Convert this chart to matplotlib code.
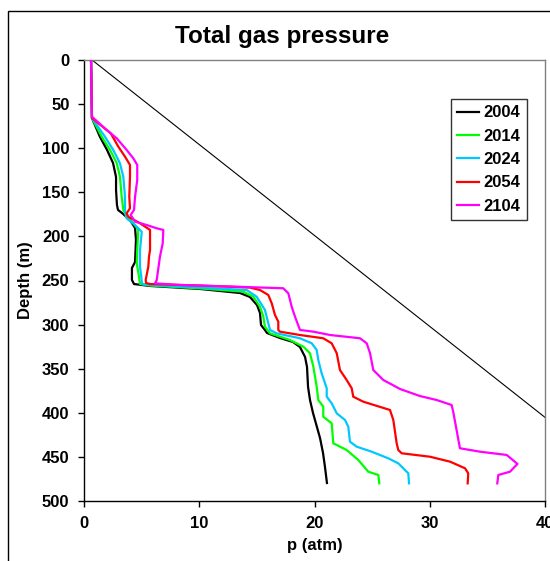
import matplotlib
matplotlib.use("Agg")
import matplotlib.pyplot as plt
from matplotlib.patches import Rectangle

plt.rcParams['font.family'] = ['Liberation Sans', 'DejaVu Sans']
plt.rcParams['font.weight'] = 'bold'

# Hydrostatic reference line (p in atm vs depth in m)
hydro_depth = [0, 500]
hydro_p = [0.7, 49.2]

years = ["2004", "2014", "2024", "2054", "2104"]
colors = ["#000000", "#00FF00", "#00C8FF", "#FF0000", "#FF00FF"]

depth_2004 = [0, 65.8, 87.3, 102, 116.8, 132.7, 147.4, 164.4, 170, 173.5, 181.4, 190.5, 204, 229, 235.8,
              249.4, 254, 256.2, 259.6, 264.2, 268.7, 277.8, 286.8, 300.5, 306.1, 309.5, 315.2, 319.7,
              325.4, 336.7, 348, 370.7, 385.5, 400.2, 428.6, 445.6, 461.5, 479.6]
p_2004 = [0.61, 0.69, 1.39, 2.0, 2.52, 2.78, 2.78, 2.86, 2.95, 3.30, 3.99, 4.43, 4.51, 4.43, 4.16,
          4.16, 4.34, 5.73, 10.07, 13.54, 14.40, 15.01, 15.27, 15.36, 15.70, 15.88, 17.0, 18.13,
          18.74, 19.18, 19.35, 19.44, 19.61, 19.87, 20.48, 20.74, 20.91, 21.08]

depth_2014 = [0, 65.8, 87, 102, 116.8, 132.3, 155, 170, 177.7, 184.8, 192.7, 215.4, 230, 245.7, 254,
              255.7, 259, 262.7, 268.4, 279.7, 291, 302.4, 309.9, 317.5, 325, 332.5, 347.7, 370.4,
              385.5, 393, 404.4, 411.9, 434.6, 442.2, 453.5, 466.8, 470.5, 480]
p_2014 = [0.61, 0.69, 1.54, 2.26, 2.84, 3.12, 3.27, 3.41, 3.70, 4.28, 4.71, 4.62, 4.57, 4.77, 4.86,
          5.73, 10.07, 13.82, 14.69, 15.27, 15.56, 15.70, 16.14, 17.87, 19.03, 19.61, 19.90, 20.19,
          20.33, 20.76, 20.76, 21.49, 21.63, 22.79, 23.80, 24.67, 25.54, 25.62]

depth_2024 = [0, 65.8, 87, 102, 117.1, 132.3, 155, 170, 179.5, 187.1, 194.7, 215.4, 234.4, 245.7, 254,
              255.1, 258, 260.8, 268.4, 283.4, 298.5, 306.1, 309.9, 315.5, 321.2, 328.8, 340.1, 355.2,
              372.2, 381.7, 389.2, 400.6, 408.2, 415.8, 432.8, 438.4, 444.1, 451.6, 457.3, 464.9,
              468.6, 480]
p_2024 = [0.61, 0.69, 1.82, 2.54, 3.12, 3.41, 3.56, 3.56, 3.70, 4.43, 5.01, 4.86, 4.86, 4.97, 5.03,
          5.73, 10.07, 14.12, 14.98, 15.70, 15.99, 16.14, 16.72, 18.74, 19.76, 20.19, 20.33, 20.62,
          21.06, 21.06, 21.49, 21.93, 22.65, 22.93, 23.08, 23.66, 24.96, 26.40, 27.27, 27.85,
          28.14, 28.20]

depth_2054 = [0, 65.8, 83.1, 98.3, 109.6, 119, 132.3, 155, 168.1, 173.8, 177.7, 185.1, 192.7, 215.4,
              223, 234.4, 249.4, 252.8, 254, 255.7, 258, 260.8, 266.4, 275.9, 289.1, 296.7, 306.1,
              308, 311.8, 315.5, 321.2, 332.5, 351.5, 362.8, 372.2, 381.7, 387.4, 396.8, 408.2,
              434.6, 442.2, 445.9, 449.8, 455.4, 462.9, 468.6, 480]
p_2054 = [0.61, 0.69, 2.32, 2.98, 3.56, 3.99, 3.99, 3.93, 3.99, 3.70, 3.84, 4.86, 5.73, 5.73,
          5.64, 5.58, 5.35, 5.38, 5.73, 10.07, 14.40, 15.27, 15.99, 16.29, 16.57, 16.86, 16.86,
          17.0, 18.74, 20.76, 21.49, 21.93, 22.21, 22.79, 23.23, 23.36, 24.23, 26.55, 26.84,
          27.13, 27.27, 27.57, 30.02, 31.76, 33.06, 33.34, 33.29]

depth_2104 = [0, 64.3, 79.4, 88.8, 102, 111.5, 119, 136, 155, 170, 175.7, 183.3, 187.1, 190.8, 192.7,
              207.8, 223, 236.2, 249.4, 253.2, 255.1, 256.8, 258.8, 264.5, 279.7, 291, 306.1, 308,
              311.8, 315.5, 321.2, 332.5, 351.5, 362.8, 373, 381, 385.5, 391.2, 399.1, 440.2, 444.1,
              447.8, 458, 466.8, 470.5, 480]
p_2104 = [0.61, 0.69, 1.97, 2.84, 3.70, 4.28, 4.62, 4.62, 4.43, 4.34, 4.05, 4.43, 5.44, 6.31, 6.88,
          6.83, 6.59, 6.45, 6.31, 6.16, 8.33, 12.67, 17.29, 17.73, 18.02, 18.31, 18.74, 19.90,
          21.35, 23.95, 24.53, 24.82, 25.10, 25.97, 27.42, 29.15, 30.60, 31.90, 32.04, 32.62, 34.36,
          36.68, 37.61, 36.96, 35.95, 35.86]

series_p = [p_2004, p_2014, p_2024, p_2054, p_2104]
series_depth = [depth_2004, depth_2014, depth_2024, depth_2054, depth_2104]

W, H = 550, 561
fig = plt.figure(figsize=(W / 100, H / 100), dpi=100)
ax = fig.add_axes([84 / W, 1 - 501 / H, (545 - 84) / W, (501 - 60) / H])

# Outer chart frame (runs off the right and bottom edges)
fig.patches.append(Rectangle((8 / W, -0.2), 1.2, 1.2 - 11 / H,
                             transform=fig.transFigure, fill=False,
                             edgecolor="black", linewidth=1.0))

ax.plot(hydro_p, hydro_depth, color="black", linewidth=0.8, zorder=2)

for p, d, c, y in zip(series_p, series_depth, colors, years):
    ax.plot(p, d, color=c, linewidth=1.6, label=y, zorder=3)

ax.set_xlim(0, 40)
ax.set_ylim(500, 0)
ax.set_xticks([0, 10, 20, 30, 40])
ax.set_yticks(range(0, 501, 50))
ax.tick_params(axis="both", direction="out", length=4.5, width=1, labelsize=12)
ax.tick_params(axis="y", pad=6)
ax.tick_params(axis="x", pad=6)
for lbl in ax.get_xticklabels() + ax.get_yticklabels():
    lbl.set_fontweight("bold")

for side in ("top", "right"):
    ax.spines[side].set_color("#808080")
    ax.spines[side].set_linewidth(1.0)
for side in ("left", "bottom"):
    ax.spines[side].set_color("black")
    ax.spines[side].set_linewidth(1.0)

fig.text(282 / W, 1 - 36 / H, "Total gas pressure", fontsize=17.5, fontweight="bold",
         ha="center", va="center")
ax.set_xlabel("p (atm)", fontsize=12, fontweight="bold", labelpad=5)
ax.set_ylabel("Depth (m)", fontsize=12, fontweight="bold", labelpad=6)

leg = ax.legend(loc="upper right", frameon=True, fancybox=False, edgecolor="black",
                handlelength=1.3, handletextpad=0.3, labelspacing=0.5, borderpad=0.38,
                borderaxespad=0, prop={"weight": "bold", "size": 12})
leg.get_frame().set_linewidth(1.0)
leg.set_bbox_to_anchor((527 / W, 1 - 99 / H), transform=fig.transFigure)

fig.savefig("out.png", dpi=100)
